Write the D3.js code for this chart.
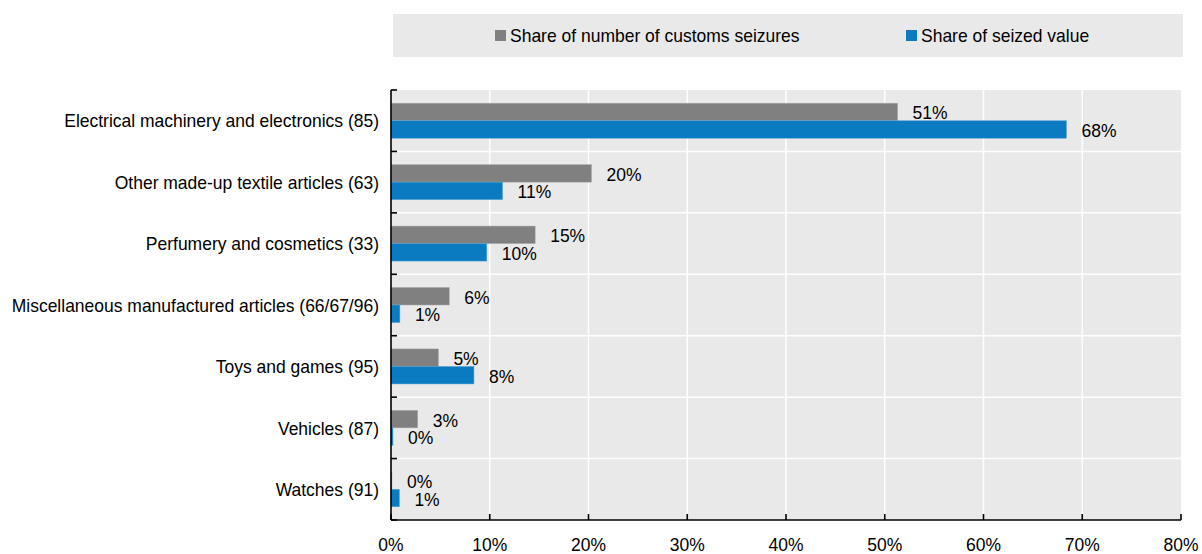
<!DOCTYPE html>
<html>
<head>
<meta charset="utf-8">
<script src="https://cdn.jsdelivr.net/npm/d3@7/dist/d3.min.js"></script>
<style>
  html, body { margin: 0; padding: 0; background: #fff; }
  svg { display: block; }
  text { font-family: Arial, "Liberation Sans", sans-serif; fill: #000; }
</style>
</head>
<body>
<svg id="chart" width="1202" height="554"></svg>
<script>
// Product categories (HS chapters in brackets)
const categories = [
  "Electrical machinery and electronics (85)",
  "Other made-up textile articles (63)",
  "Perfumery and cosmetics (33)",
  "Miscellaneous manufactured articles (66/67/96)",
  "Toys and games (95)",
  "Vehicles (87)",
  "Watches (91)"
];
// Share of number of customs seizures, %
const seizureShare = [51.3, 20.3, 14.6, 5.9, 4.8, 2.7, 0.1];
// Share of seized value, %
const valueShare = [68.4, 11.3, 9.7, 0.9, 8.4, 0.2, 0.85];
// x-axis ticks, %
const xTicks = [0, 10, 20, 30, 40, 50, 60, 70, 80];
const seriesNames = ["Share of number of customs seizures", "Share of seized value"];
const seriesColors = ["#808080", "#0b7bc1"];

const svg = d3.select("#chart");
const fs = 18.6;      // font size
const squeeze = 0.94; // slightly condensed lettering
const plot = { left: 391, right: 1181, top: 90, bottom: 520 };

// Place a text element at (x, y) with condensed glyphs
function place(sel, fx, fy) {
  return sel
    .attr("transform", (d, i) => `translate(${fx(d, i)},${fy(d, i)}) scale(${squeeze},1)`)
    .attr("font-size", fs);
}

const x = d3.scaleLinear().domain([0, 80]).range([plot.left, plot.right]);
const y = d3.scaleBand().domain(categories).range([plot.top, plot.bottom]).paddingInner(0).paddingOuter(0);
const barH = y.bandwidth() * 0.285;

// Plot background
svg.append("rect")
  .attr("x", plot.left).attr("y", plot.top)
  .attr("width", plot.right - plot.left).attr("height", plot.bottom - plot.top)
  .attr("fill", "#e9e9e9");

// Grid lines
svg.append("g").selectAll("line").data(xTicks.slice(1, -1)).join("line")
  .attr("x1", d => x(d)).attr("x2", d => x(d))
  .attr("y1", plot.top).attr("y2", plot.bottom)
  .attr("stroke", "#fff").attr("stroke-width", 1.5);
svg.append("g").selectAll("line").data(categories.slice(1)).join("line")
  .attr("x1", plot.left).attr("x2", plot.right)
  .attr("y1", d => y(d)).attr("y2", d => y(d))
  .attr("stroke", "#fff").attr("stroke-width", 1.5);

// Bars and value labels
const fmt = d => d3.format(".0f")(d) + "%";
[seizureShare, valueShare].forEach((vals, s) => {
  const g = svg.append("g");
  const yPos = (i) => y(categories[i]) + y.bandwidth() / 2 + (s === 0 ? -barH : 0);
  g.selectAll("rect").data(vals).join("rect")
    .attr("x", x(0))
    .attr("y", (d, i) => yPos(i))
    .attr("width", d => x(d) - x(0))
    .attr("height", barH)
    .attr("fill", seriesColors[s])
    .attr("stroke", s === 0 ? "#a8a8a8" : "#5aa3d4")
    .attr("stroke-width", 0.5);
  place(g.selectAll("text").data(vals).join("text"),
        d => x(d) + 15, (d, i) => yPos(i) + barH / 2 + 0.8)
    .attr("dy", "0.36em")
    .text(fmt);
});

// Category labels
place(svg.append("g").selectAll("text").data(categories).join("text"),
      () => plot.left - 12, d => y(d) + y.bandwidth() / 2)
  .attr("dy", "0.36em")
  .attr("text-anchor", "end")
  .text(d => d);

// Axes
const axes = svg.append("g").attr("stroke", "#000").attr("stroke-width", 1.6);
axes.append("line").attr("x1", plot.left).attr("x2", plot.left)
  .attr("y1", plot.top).attr("y2", plot.bottom);
axes.append("line").attr("x1", plot.left).attr("x2", plot.right)
  .attr("y1", plot.bottom).attr("y2", plot.bottom);
const yBounds = categories.map(d => y(d)).concat([plot.bottom]);
axes.selectAll(".ytick").data(yBounds).join("line").attr("class", "ytick")
  .attr("x1", plot.left).attr("x2", plot.left + 6)
  .attr("y1", d => d).attr("y2", d => d);
axes.selectAll(".xtick").data(xTicks).join("line").attr("class", "xtick")
  .attr("x1", d => x(d)).attr("x2", d => x(d))
  .attr("y1", plot.bottom).attr("y2", plot.bottom - 6);

place(svg.append("g").selectAll("text").data(xTicks).join("text"),
      d => x(d), () => 551)
  .attr("text-anchor", "middle")
  .text(d => d + "%");

// Legend
const legend = svg.append("g");
legend.append("rect").attr("x", 393).attr("y", 14).attr("width", 790).attr("height", 43)
  .attr("fill", "#e9e9e9");
const legendX = [495, 906];
seriesNames.forEach((name, i) => {
  legend.append("rect").attr("x", legendX[i]).attr("y", 30).attr("width", 11).attr("height", 11)
    .attr("fill", seriesColors[i]);
  place(legend.append("text").datum(name), () => legendX[i] + 15, () => 35.5)
    .attr("dy", "0.36em")
    .text(name);
});
</script>
</body>
</html>
